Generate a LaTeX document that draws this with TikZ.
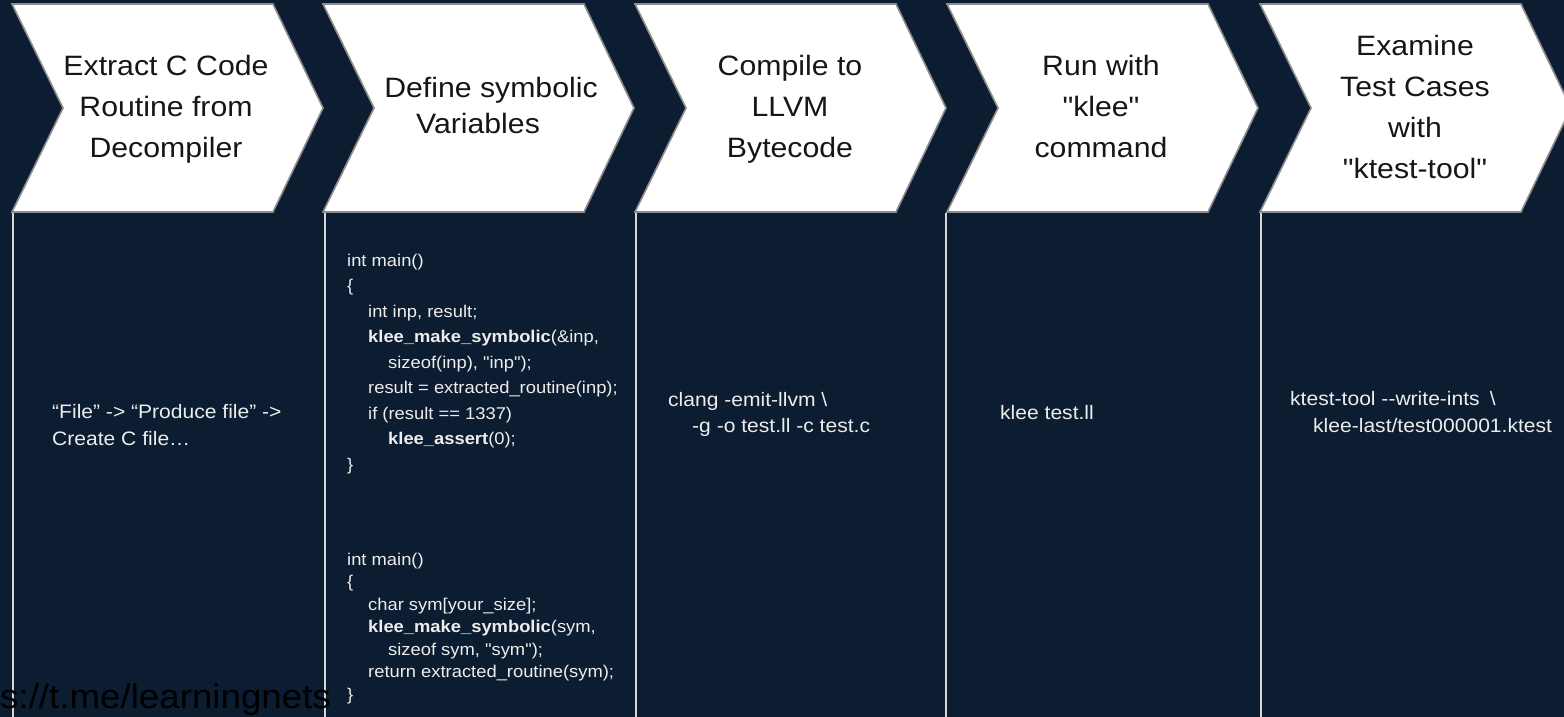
\documentclass[tikz,border=0pt]{standalone}
\usepackage{fontspec}
\setmainfont{Liberation Sans}[FakeStretch=1.08,Ligatures=TeXOff]
\definecolor{navy}{HTML}{0C1C31}
\definecolor{chevborder}{HTML}{8C8C8C}
\definecolor{bodytxt}{HTML}{EDEDED}
\definecolor{headtxt}{HTML}{161616}
\definecolor{linecol}{HTML}{D6D6D6}
\begin{document}
\begin{tikzpicture}[x=1pt,y=-1pt,
  chev/.style={fill=white,draw=chevborder,line width=1.6pt,line join=miter},
  head/.style={inner sep=0pt,align=center,anchor=north,text=headtxt},
  body/.style={inner sep=0pt,align=left,anchor=north west,text=bodytxt},
  sepline/.style={draw=linecol,line width=1.8pt}]
\fill[navy] (0,0) rectangle (1564,717);
\useasboundingbox (0,0) rectangle (1564,717);
\clip (0,0) rectangle (1564,717);
% chevrons
\foreach \L in {12,323,635,947,1260}{
  \draw[chev] (\L,4) -- ++(261,0) -- ++(50,104) -- ++(-50,104) -- ++(-261,0) -- ++(51,-104) -- cycle;
}
% column separators
\foreach \x in {13,325,636,946,1261}{
  \draw[sepline] (\x,213) -- (\x,717);
}
% headings
\node[head,font=\fontsize{28}{41}\selectfont] (h1) at (166,54) {\rule{0pt}{21pt}Extract C Code\\Routine from\\Decompiler};
\node[head,font=\fontsize{28}{36}\selectfont] (h2) at (491,76) {\rule{0pt}{21pt}Define symbolic\\Variables\hspace*{26pt}};
\node[head,font=\fontsize{28}{41}\selectfont] (h3) at (790,54) {\rule{0pt}{21pt}Compile to\\LLVM\\Bytecode};
\node[head,font=\fontsize{28}{41}\selectfont] (h4) at (1101,54) {\rule{0pt}{21pt}Run with\\"klee"\\command};
\node[head,font=\fontsize{28}{41}\selectfont] (h5) at (1415,34) {\rule{0pt}{21pt}Examine\\Test Cases\\with\\"ktest-tool"};
% bodies
\node[body,font=\fontsize{19.5}{27}\selectfont] (b1) at (52,403) {\rule{0pt}{15pt}“File” -> “Produce file” ->\\Create C file…};
\node[body,font=\fontsize{17}{25.5}\selectfont] (b2a) at (347,252) {\rule{0pt}{14pt}int main()\\
\{\\
\hspace*{21pt}int inp, result;\\
\hspace*{21pt}\textbf{klee\_make\_symbolic}(\&inp,\\
\hspace*{41pt}sizeof(inp), "inp");\\
\hspace*{21pt}result = extracted\_routine(inp);\\
\hspace*{21pt}if (result == 1337)\\
\hspace*{41pt}\textbf{klee\_assert}(0);\\
\}};
\node[body,font=\fontsize{17}{22.5}\selectfont] (b2b) at (347,551) {\rule{0pt}{14pt}int main()\\
\{\\
\hspace*{21pt}char sym[your\_size];\\
\hspace*{21pt}\textbf{klee\_make\_symbolic}(sym,\\
\hspace*{41pt}sizeof sym, "sym");\\
\hspace*{21pt}return extracted\_routine(sym);\\
\}};
\node[body,font=\fontsize{19.5}{26}\selectfont] (b3) at (668,391) {\rule{0pt}{15pt}clang -emit-llvm \textbackslash\\\hspace*{24pt}-g -o test.ll -c test.c};
\node[body,font=\fontsize{19.5}{27}\selectfont] (b4) at (1000,404) {\rule{0pt}{15pt}klee test.ll};
\node[body,font=\fontsize{19.5}{27}\selectfont] (b5) at (1290,390) {\rule{0pt}{15pt}ktest-tool --write-ints\hspace{10pt}\textbackslash\\\hspace*{23pt}klee-last/test000001.ktest};
% watermark
\node[inner sep=0pt,anchor=base west,text=black,font=\fontsize{34}{40}\selectfont] (wm) at (0,708) {s://t.me/learningnets};
\end{tikzpicture}
\end{document}
